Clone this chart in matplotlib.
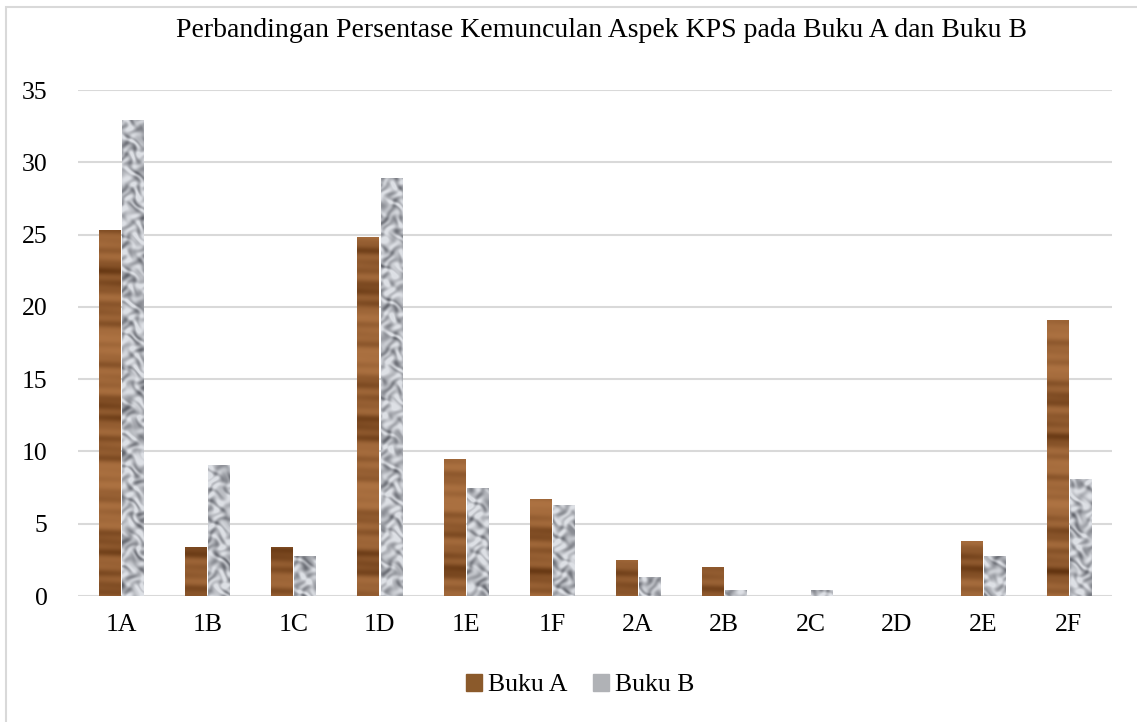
import numpy as np
import matplotlib.pyplot as plt
from matplotlib.patches import Rectangle

categories = ['1A', '1B', '1C', '1D', '1E', '1F', '2A', '2B', '2C', '2D', '2E', '2F']
buku_a = [25.3, 3.4, 3.4, 24.8, 9.5, 6.7, 2.5, 2.0, 0.0, 0.0, 3.8, 19.1]
buku_b = [32.9, 9.05, 2.8, 28.9, 7.5, 6.3, 1.3, 0.45, 0.45, 0.0, 2.75, 8.1]
y_ticks = [0, 5, 10, 15, 20, 25, 30, 35]

plt.rcParams['font.family'] = ['Liberation Serif', 'DejaVu Serif']


def wood_texture(h, w):
    # horizontal grain, brown tones
    yy, xx = np.mgrid[0:h, 0:w].astype(float)
    g = (np.sin(yy / 3.1) * 0.4 + np.sin(yy / 7.3 + xx / 90.0) * 0.5
         + np.sin(yy / 1.7 + xx / 40.0) * 0.25 + np.sin(yy / 23.0) * 0.6)
    g = (g - g.min()) / (g.max() - g.min())
    light = np.array([0.68, 0.45, 0.26])
    dark = np.array([0.38, 0.20, 0.06])
    t = g[..., None] ** 1.8
    return light * (1 - t) + dark * t


def granite_texture(h, w):
    # mottled grey stone
    yy, xx = np.mgrid[0:h, 0:w].astype(float)
    wx = xx + 3.0 * np.sin(yy / 5.3) + 2.0 * np.sin(yy / 2.7 + xx / 6.1)
    wy = yy + 3.0 * np.sin(xx / 4.7) + 2.0 * np.sin(xx / 3.1 - yy / 7.3)
    g = (np.sin(wx / 2.6) * np.sin(wy / 2.4) + 0.5 * np.sin(wx / 6.5 + 1.0) * np.sin(wy / 7.1)
         + 0.3 * np.sin(wx / 1.6 + wy / 2.2))
    g = (g - g.min()) / (g.max() - g.min())
    light = np.array([0.87, 0.88, 0.90])
    dark = np.array([0.36, 0.37, 0.40])
    t = np.clip((g - 0.25) / 0.75, 0, 1)[..., None] ** 1.1
    return light * (1 - t) + dark * t


fig = plt.figure(figsize=(11.37, 7.22), dpi=100)
fig.patches.append(Rectangle((0.005, -0.01), 1.2, 1.0, transform=fig.transFigure,
                             fill=False, edgecolor='#d9d9d9', linewidth=1.5))
ax = fig.add_axes([0.0686, 0.1745, 0.9094, 0.7008])

x = np.arange(len(categories))
bw = 0.245
off = 0.135
bars_a = ax.bar(x - off, buku_a, bw, color='#8b5a2b', zorder=2)
bars_b = ax.bar(x + off, buku_b, bw, color='#b0b2b6', zorder=2)

ax.set_xlim(-0.5, len(categories) - 0.5)
ax.set_ylim(0, 35)

tex_a = wood_texture(520, 1040)
tex_b = granite_texture(520, 1040)
ext = (-0.5, len(categories) - 0.5, 0, 35)
for bars, tex in ((bars_a, tex_a), (bars_b, tex_b)):
    for b in bars:
        if b.get_height() <= 0:
            continue
        im = ax.imshow(tex, extent=ext, aspect='auto', origin='lower',
                       interpolation='bilinear', zorder=3)
        im.set_clip_path(b)
ax.set_xlim(-0.5, len(categories) - 0.5)
ax.set_ylim(0, 35)

ax.set_yticks(y_ticks)
ax.set_xticks(x)
ax.set_xticklabels(categories)
ax.tick_params(axis='both', length=0, labelsize=18.5, colors='#000000')
ax.tick_params(axis='y', pad=22)
ax.tick_params(axis='x', pad=13)
ax.yaxis.grid(True, color='#d9d9d9', linewidth=1.5, zorder=0)
ax.set_axisbelow(True)
for s in ax.spines.values():
    s.set_visible(False)

fig.text(0.529, 0.958, 'Perbandingan Persentase Kemunculan Aspek KPS pada Buku A dan Buku B',
         ha='center', va='center', fontsize=20)

# legend
ha = Rectangle((0, 0), 1, 1, color='#8b5a2b')
hb = Rectangle((0, 0), 1, 1, color='#b0b2b6')
fig.legend([ha, hb], ['Buku A', 'Buku B'], loc='center', bbox_to_anchor=(0.51, 0.051),
           ncol=2, frameon=False, fontsize=18.5, handlelength=0.65, handleheight=0.65,
           handletextpad=0.2, columnspacing=1.0)

fig.savefig('out.png', dpi=100)
